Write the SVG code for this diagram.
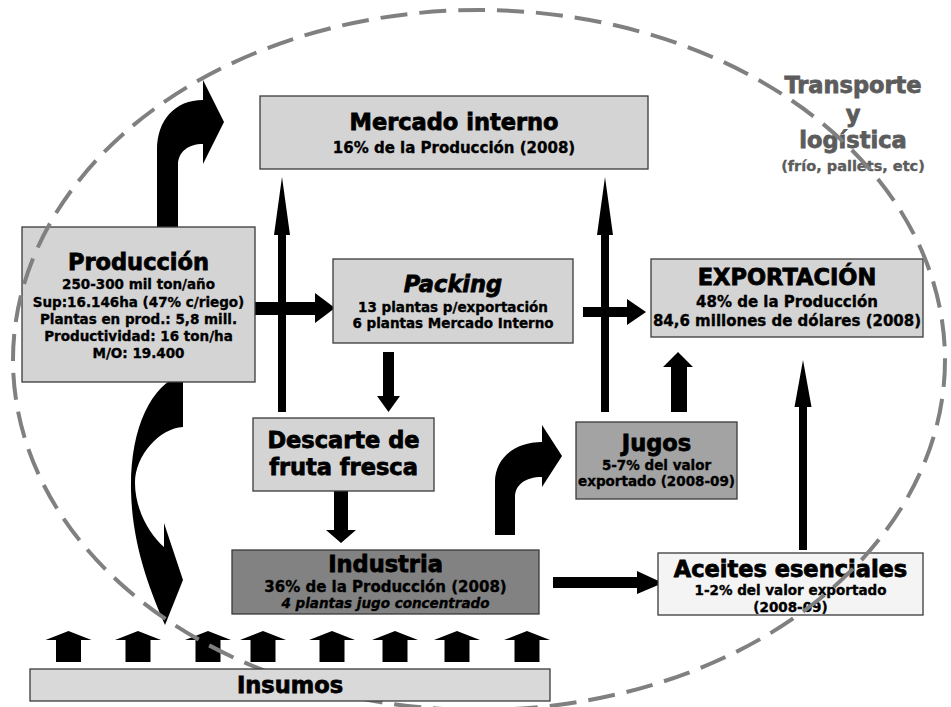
<svg xmlns="http://www.w3.org/2000/svg" width="951" height="707" viewBox="0 0 951 707">
<style>
text{font-family:"DejaVu Sans","Liberation Sans",sans-serif;font-weight:bold;text-anchor:middle;fill:#000;stroke:#000;stroke-width:0.35px}
.box{stroke:#3a3a3a;stroke-width:1.3}
.lt{fill:#d4d4d4}
.t{font-size:22.5px;stroke-width:0.8px}
.s{font-size:13.5px}
.m{font-size:15px}
.arr{fill:#000}
.tr{fill:#5c5c5c;stroke:#5c5c5c}
</style>
<rect width="951" height="707" fill="#fff"/>
<g id="connectors" class="arr">
<path d="M157,227 L157,150 C157,120 175,100 203,100 L203,80 L224,122 L203,164 L203,144 C188,144 178,152 178,165 L178,227 Z"/>
<path d="M183,374 L183,427 C160,428 135,455 135,483 C135,510 150,535 164,547 L164,523 L183,580 L165,625 C150,590 132,545 131,490 C130,430 150,385 183,374 Z"/>
<path d="M278,412 L278,235 L274,235 L282,177 L290,235 L286,235 L286,412 Z"/>
<path d="M255,302 L315,302 L315,293 L335,308 L315,323 L315,315 L255,315 Z"/>
<path d="M383,352 L394,352 L394,396 L400,396 L388.5,412 L377,396 L383,396 Z"/>
<path d="M334,491 L348,491 L348,530 L356,530 L341,543 L326,530 L334,530 Z"/>
<path d="M601,412 L601,235 L597,235 L605,177 L613,235 L609,235 L609,412 Z"/>
<path d="M583,307 L627,307 L627,299 L646,312 L627,325 L627,317 L583,317 Z"/>
<path d="M671,412 L671,367 L663,367 L678,352 L693,367 L687,367 L687,412 Z"/>
<path d="M799,550 L799,407 L794.5,407 L803,360 L811.5,407 L807,407 L807,550 Z"/>
<path d="M495,535 L495,482 C495,458 515,442 542,442 L542,425 L562,456 L542,487 L542,477 C525,477 515,485 515,497 L515,535 Z"/>
<path d="M553,577 L637,577 L637,571 L663,583 L637,594 L637,588 L553,588 Z"/>
<g id="insumos-arrows">
<path d="M68.5,631 L91.5,640 L81,640 L81,662 L56,662 L56,640 L45.5,640 Z"/>
<path d="M138,631 L161,640 L150.5,640 L150.5,662 L125.5,662 L125.5,640 L115,640 Z"/>
<path d="M208,631 L231,640 L220.5,640 L220.5,662 L195.5,662 L195.5,640 L185,640 Z"/>
<path d="M263,631 L286,640 L275.5,640 L275.5,662 L250.5,662 L250.5,640 L240,640 Z"/>
<path d="M332,631 L355,640 L344.5,640 L344.5,662 L319.5,662 L319.5,640 L309,640 Z"/>
<path d="M395,631 L418,640 L407.5,640 L407.5,662 L382.5,662 L382.5,640 L372,640 Z"/>
<path d="M457,631 L480,640 L469.5,640 L469.5,662 L444.5,662 L444.5,640 L434,640 Z"/>
<path d="M527,631 L550,640 L539.5,640 L539.5,662 L514.5,662 L514.5,640 L504,640 Z"/>
</g>
</g>
<g id="mercado">
<rect class="box lt" x="260" y="96" width="388" height="73"/>
<text class="t" x="454" y="130">Mercado interno</text>
<text class="m" x="454" y="153">16% de la Producción (2008)</text>
</g>
<g id="produccion">
<rect class="box lt" x="22" y="227" width="233" height="155"/>
<text class="t" x="138.5" y="270">Producción</text>
<text class="s" x="138.5" y="289">250-300 mil ton/año</text>
<text class="s" x="138.5" y="307">Sup:16.146ha (47% c/riego)</text>
<text class="s" x="138.5" y="324">Plantas en prod.: 5,8 mill.</text>
<text class="s" x="138.5" y="341">Productividad: 16 ton/ha</text>
<text class="s" x="138.5" y="358">M/O: 19.400</text>
</g>
<g id="packing">
<rect class="box lt" x="333" y="259" width="240" height="84"/>
<text class="t" x="453" y="292" font-style="italic">Packing</text>
<text class="s" x="453" y="312">13 plantas p/exportación</text>
<text class="s" x="453" y="328">6 plantas Mercado Interno</text>
</g>
<g id="exportacion">
<rect class="box lt" x="651" y="259" width="272" height="78"/>
<text class="t" x="787" y="285">EXPORTACIÓN</text>
<text class="m" x="787" y="307">48% de la Producción</text>
<text class="m" x="787" y="326">84,6 millones de dólares (2008)</text>
</g>
<g id="descarte">
<rect class="box lt" x="253" y="418" width="181" height="73"/>
<text class="t" x="343.5" y="448">Descarte de</text>
<text class="t" x="343.5" y="475">fruta fresca</text>
</g>
<g id="jugos">
<rect class="box" fill="#a3a3a3" x="576" y="422" width="161" height="77"/>
<text class="t" x="656.5" y="451">Jugos</text>
<text class="s" x="656.5" y="470">5-7% del valor</text>
<text class="s" x="656.5" y="486">exportado (2008-09)</text>
</g>
<g id="industria">
<rect class="box" fill="#828282" x="232" y="550" width="307" height="64"/>
<text class="t" x="385.5" y="572">Industria</text>
<text class="m" x="385.5" y="592">36% de la Producción (2008)</text>
<text class="s" x="385.5" y="608" font-style="italic">4 plantas jugo concentrado</text>
</g>
<g id="aceites">
<rect class="box" fill="#f4f4f4" x="658" y="553" width="265" height="62"/>
<text class="t" x="790.5" y="577">Aceites esenciales</text>
<text class="s" x="790.5" y="595">1-2% del valor exportado</text>
<text class="s" x="790.5" y="612">(2008-09)</text>
</g>
<g id="transporte">
<text class="t tr" x="853" y="93">Transporte</text>
<text class="t tr" x="853" y="122">y</text>
<text class="t tr" x="853" y="148">logística</text>
<text class="tr" x="853" y="171" font-size="14.5px">(frío, pallets, etc)</text>
</g>
<g id="boundary">
<ellipse cx="479" cy="360" rx="466" ry="350" fill="none" stroke="#808080" stroke-width="4" stroke-dasharray="27,12"/>
</g>
<g id="insumos">
<rect class="box" fill="#d9d9d9" x="30" y="669" width="520" height="32"/>
<text class="t" x="290" y="693">Insumos</text>
</g>
</svg>
